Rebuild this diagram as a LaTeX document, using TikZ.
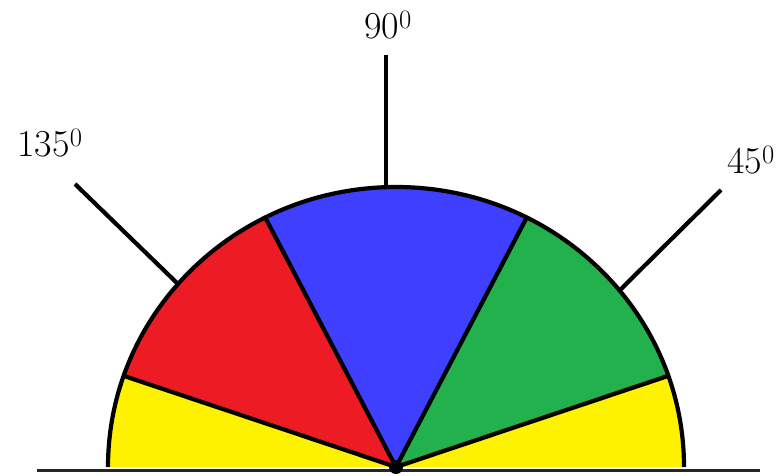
\documentclass[tikz,border=0pt]{standalone}
\definecolor{paintred}{RGB}{237,28,36}
\definecolor{paintblue}{RGB}{63,63,255}
\definecolor{paintgreen}{RGB}{34,177,76}
\definecolor{paintyellow}{RGB}{255,242,0}
\begin{document}
\begin{tikzpicture}[x=1pt, y=1pt, line width=4.2pt,
    angle label/.style={font=\fontsize{38}{42}\selectfont, inner sep=0pt}]
  \useasboundingbox (0,0) rectangle (783,475);
  \coordinate (O) at (396,8);

  % Coloured sectors
  \foreach \from/\to/\col in {0/19/paintyellow, 19/63/paintgreen, 63/117/paintblue, 117/161/paintred, 161/180/paintyellow}{
    \fill[\col] (O) -- ([shift={(O)}]\from:288 and 280) arc[start angle=\from, end angle=\to, x radius=288, y radius=280] -- cycle;
  }

  % Dividing edges and rim
  \foreach \a in {19,63,117,161}{
    \draw (O) -- ([shift={(O)}]\a:288 and 280);
  }
  \draw ([shift={(O)}]0:288 and 280) arc[start angle=0, end angle=180, x radius=288, y radius=280];

  % Base line
  \draw[line width=3pt, black!85] (37,5) -- (760,5);
  \fill (O) circle (7);

  % Angle rays
  \coordinate (r90a) at (386,420);  \coordinate (r90b) at (386,288);
  \coordinate (r135a) at (75,291);  \coordinate (r135b) at (178,191);
  \coordinate (r45a) at (721,285);  \coordinate (r45b) at (620,185);
  \draw (r90a) -- (r90b);
  \draw (r135a) -- (r135b);
  \draw (r45a) -- (r45b);

  % Labels
  \node[angle label] (l90) at (388,450) {90\textsuperscript{0}};
  \node[angle label] (l135) at (50,332) {135\textsuperscript{0}};
  \node[angle label] (l45) at (751,315) {45\textsuperscript{0}};
\end{tikzpicture}
\end{document}
